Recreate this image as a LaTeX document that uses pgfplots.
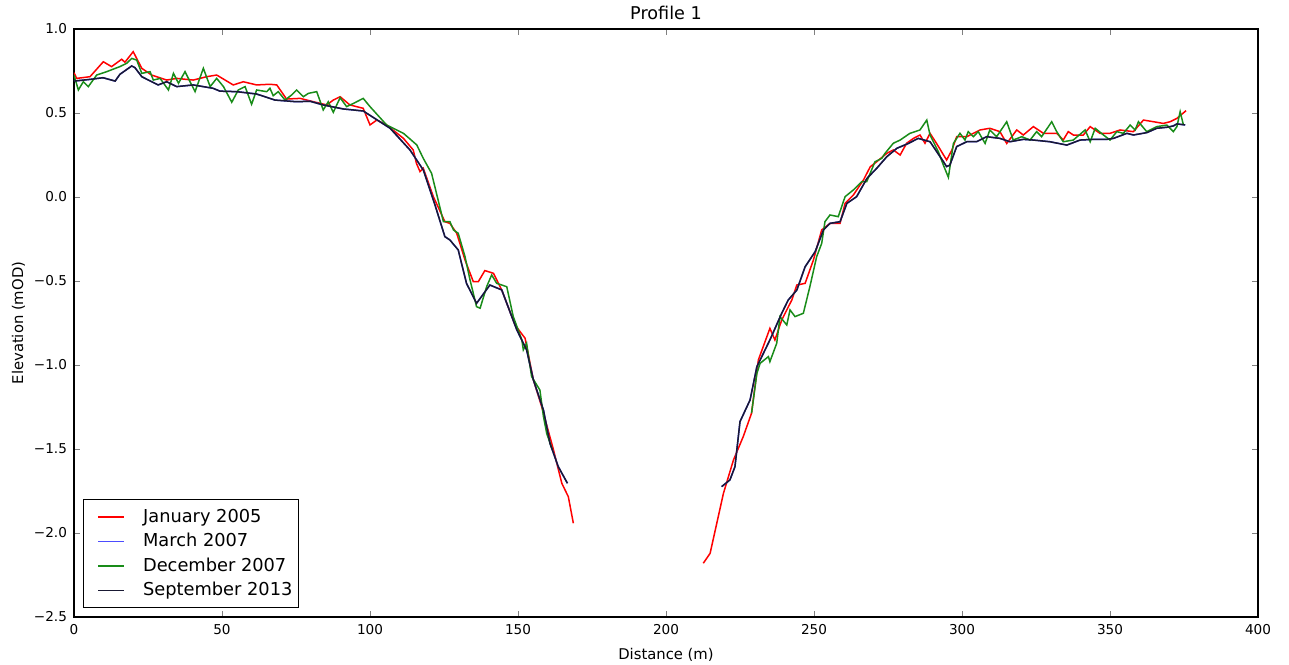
\documentclass[border=0pt]{standalone}
\usepackage{fontspec}
\setmainfont{DejaVu Sans}
\usepackage{pgfplots}
\pgfplotsset{compat=1.18}

\begin{document}
\begin{tikzpicture}
\begin{axis}[
    scale only axis, width=592pt, height=294pt,
    xmin=0, xmax=400, ymin=-2.5, ymax=1.0,
    xtick={0,50,...,400},
    ytick={-2.5,-2,-1.5,-1,-0.5,0,0.5,1},
    yticklabels={−2.5,−2.0,−1.5,−1.0,−0.5,0.0,0.5,1.0},
    tick align=inside, tick pos=both, major tick length=3pt,
    ticklabel style={font=\fontsize{6.8}{8}\selectfont},
    /pgf/number format/assume math mode=true,
    axis line style={line width=0.6pt},
    xlabel={Distance (m)}, ylabel={Elevation (mOD)},
    label style={font=\fontsize{7.4}{9}\selectfont},
    ylabel shift=-2.5pt,
    title={Profile 1},
    every axis title/.style={at={(0.5,1)}, anchor=base, yshift=4.5pt,
        font=\fontsize{8.8}{10}\selectfont},
    unbounded coords=jump,
    every axis plot/.append style={line width=0.75pt},
    legend style={at={(0.0076,0.015)}, anchor=south west, draw=black, line width=0.6pt,
        font=\fontsize{8.9}{10}\selectfont, row sep=0pt, inner xsep=1pt, inner ysep=2.5pt,
        /tikz/every odd column/.append style={column sep=7pt}},
    legend cell align=left,
    legend image code/.code={\path (0pt,0pt); \draw[#1] (6pt,0pt) -- (19pt,0pt);},
]
% January 2005
\addplot[red] coordinates {
(0,0.74) (0.9,0.706) (5.4,0.716) (9.9,0.805) (12.7,0.776) (16.1,0.820) (17.2,0.802)
(20.0,0.865) (22.9,0.766) (26.2,0.726) (27.9,0.716) (31.3,0.696) (34.7,0.706)
(40.3,0.696) (44.8,0.716) (48.2,0.726) (53.8,0.667) (57.2,0.686) (61.7,0.667)
(66.2,0.671) (68.5,0.667) (71.8,0.583) (76.4,0.587) (80.9,0.567) (85.4,0.548)
(87.6,0.577) (89.9,0.597) (93.2,0.548) (97.7,0.528) (100.0,0.429) (102.3,0.458)
(105.6,0.429) (111.3,0.349) (114.6,0.28) (115.7,0.20) (116.9,0.151) (118.0,0.171)
(121.4,0.002) (125.3,-0.147) (127.0,-0.157) (129.3,-0.216) (132.1,-0.375)
(134.9,-0.504) (136.6,-0.504) (138.8,-0.438) (141.7,-0.454) (144.5,-0.553)
(149.0,-0.762) (152.4,-0.841) (155.2,-1.089) (158.0,-1.248) (162.0,-1.506)
(164.8,-1.704) (167.0,-1.784) (168.7,-1.942)
(190,nan)
(212.6,-2.18) (214.9,-2.121) (219.4,-1.764) (222.8,-1.565) (226.1,-1.426)
(228.9,-1.287) (231.2,-0.97) (235.1,-0.782) (236.8,-0.851) (239.1,-0.732)
(242.5,-0.613) (244.2,-0.524) (247.0,-0.514) (249.8,-0.375) (252.6,-0.196)
(255.4,-0.157) (258.8,-0.157) (260.5,-0.038) (263.3,0.012) (266.7,0.101)
(269.0,0.180) (271.2,0.210) (274.6,0.260) (276.8,0.280) (279.1,0.250)
(281.3,0.320) (283.6,0.349) (285.8,0.369) (287.5,0.320) (289.2,0.379)
(291.4,0.319) (294.8,0.220) (296.6,0.280) (298.2,0.359) (301.6,0.359)
(306.1,0.399) (309.4,0.409) (312.8,0.389) (315.1,0.319) (318.5,0.399)
(320.7,0.369) (324.1,0.419) (327.5,0.379) (332.0,0.379) (334.2,0.339)
(335.9,0.389) (337.6,0.369) (341.0,0.369) (343.3,0.419) (346.6,0.379)
(350.0,0.379) (353.4,0.399) (357.9,0.389) (361.3,0.458) (364.7,0.448)
(368.0,0.438) (370.3,0.448) (372.6,0.468) (375.7,0.514)
};
\addlegendentry{January 2005}
% March 2007 (lies under September 2013)
\addplot[color={rgb,1:red,0.3;green,0.3;blue,1}] coordinates {
(0,0.69) (5.4,0.70) (9.8,0.71) (13.9,0.69) (15.5,0.73) (19.5,0.78) (20.6,0.77)
(22.9,0.716) (28.4,0.667) (31.3,0.686) (34.7,0.657) (40.3,0.667) (47.0,0.647)
(49.3,0.63) (55.0,0.627) (61.7,0.613) (67.9,0.577) (75.2,0.567) (79.7,0.57)
(84.2,0.548) (91.0,0.524) (97.7,0.512) (106.8,0.409) (113.5,0.28) (118.0,0.161)
(122.0,-0.05) (125.3,-0.236) (127.0,-0.256) (129.8,-0.315) (132.6,-0.514)
(136.0,-0.633) (140.5,-0.524) (144.5,-0.553) (149.6,-0.791) (152.9,-0.91)
(155.2,-1.089) (158.6,-1.268) (160.8,-1.466) (163.6,-1.605) (166.7,-1.704)
(190,nan)
(218.8,-1.724) (221.6,-1.684) (223.3,-1.605) (225.0,-1.337) (228.4,-1.208)
(230.7,-1.010) (235.1,-0.851) (239.1,-0.692) (241.3,-0.613) (244.2,-0.554)
(247.0,-0.415) (250.4,-0.325) (253.2,-0.196) (255.4,-0.157) (258.8,-0.147)
(261.1,-0.038) (264.4,0.002) (267.9,0.111) (271.2,0.171) (274.6,0.240)
(278.0,0.290) (281.9,0.319) (285.2,0.349) (289.2,0.329) (292.6,0.240)
(294.8,0.181) (295.9,0.190) (298.2,0.300) (301.6,0.329) (304.9,0.329)
(308.3,0.359) (312.8,0.349) (316.2,0.329) (320.7,0.343) (324.1,0.339)
(329.7,0.329) (335.4,0.309) (339.9,0.339) (344.4,0.343) (348.9,0.343)
(351.2,0.349) (355.7,0.379) (357.9,0.369) (362.4,0.383) (365.8,0.409)
(369.2,0.415) (371.4,0.423) (372.6,0.435) (375.4,0.429)
};
\addlegendentry{March 2007}
% December 2007
\addplot[color={rgb,1:red,0.1;green,0.55;blue,0.1}] coordinates {
(0,0.726) (1.47,0.637) (3.15,0.686) (4.84,0.657) (7.66,0.726) (11.04,0.746)
(15.5,0.776) (17.8,0.796) (19.5,0.825) (21.2,0.815) (22.9,0.736) (25.7,0.746)
(26.8,0.696) (29.1,0.706) (31.9,0.637) (33.6,0.736) (35.3,0.677) (37.5,0.746)
(40.9,0.627) (43.7,0.766) (46.0,0.657) (48.2,0.706) (50.5,0.657) (53.3,0.564)
(55.5,0.637) (57.8,0.657) (60.0,0.552) (61.7,0.637) (65.1,0.627) (66.2,0.647)
(67.3,0.603) (69.0,0.627) (71.3,0.577) (73.5,0.607) (75.2,0.637) (77.5,0.597)
(79.2,0.617) (82.0,0.627) (84.2,0.518) (85.9,0.567) (87.6,0.504) (89.9,0.591)
(92.1,0.538) (94.4,0.557) (97.7,0.587) (100.0,0.538) (105.6,0.429) (111.3,0.379)
(115.8,0.310) (118.0,0.23) (120.8,0.141) (121.9,0.062) (124.8,-0.147)
(127.0,-0.147) (128.2,-0.196) (129.8,-0.216) (132.1,-0.355) (133.8,-0.494)
(136.0,-0.653) (137.2,-0.662) (139.4,-0.534) (141.1,-0.464) (142.8,-0.514)
(144.5,-0.524) (146.2,-0.534) (148.4,-0.712) (151.3,-0.851) (151.8,-0.91)
(152.9,-0.871) (154.6,-1.069) (157.4,-1.149) (158.6,-1.307) (159.7,-1.407)
(161.5,-1.50)
(190,nan)
(228.9,-1.287) (230.7,-1.05) (231.8,-0.99) (234.6,-0.95) (235.1,-0.98)
(237.4,-0.871) (238.5,-0.712) (240.8,-0.762) (241.9,-0.672) (243.6,-0.712)
(246.4,-0.692) (248.6,-0.534) (250.9,-0.355) (252.6,-0.276) (253.7,-0.147)
(255.4,-0.107) (258.2,-0.117) (260.5,0.002) (263.3,0.042) (266.1,0.091)
(267.8,0.091) (270.6,0.210) (272.9,0.230) (274.0,0.260) (276.8,0.320)
(279.1,0.339) (282.4,0.379) (285.8,0.399) (288.1,0.458) (289.2,0.369)
(292.0,0.270) (293.7,0.190) (295.4,0.117) (297.1,0.319) (299.3,0.379)
(301.0,0.339) (302.1,0.389) (303.8,0.359) (305.5,0.389) (307.8,0.319)
(309.4,0.399) (311.7,0.359) (315.1,0.448) (317.3,0.339) (320.2,0.359)
(323.0,0.339) (325.2,0.389) (326.9,0.359) (330.3,0.448) (332.0,0.389)
(334.2,0.329) (337.6,0.339) (341.6,0.399) (343.3,0.329) (345.0,0.409)
(347.8,0.369) (350.0,0.339) (352.3,0.389) (354.5,0.379) (356.8,0.428)
(358.5,0.399) (359.6,0.448) (362.4,0.389) (365.8,0.419) (369.2,0.428)
(371.4,0.389) (372.6,0.419) (373.7,0.508) (374.8,0.429)
};
\addlegendentry{December 2007}
% September 2013
\addplot[color={rgb,1:red,0.1;green,0.1;blue,0.2}] coordinates {
(0,0.69) (5.4,0.70) (9.8,0.71) (13.9,0.69) (15.5,0.73) (19.5,0.78) (20.6,0.77)
(22.9,0.716) (28.4,0.667) (31.3,0.686) (34.7,0.657) (40.3,0.667) (47.0,0.647)
(49.3,0.63) (55.0,0.627) (61.7,0.613) (67.9,0.577) (75.2,0.567) (79.7,0.57)
(84.2,0.548) (91.0,0.524) (97.7,0.512) (106.8,0.409) (113.5,0.28) (118.0,0.161)
(122.0,-0.05) (125.3,-0.236) (127.0,-0.256) (129.8,-0.315) (132.6,-0.514)
(136.0,-0.633) (140.5,-0.524) (144.5,-0.553) (149.6,-0.791) (152.9,-0.91)
(155.2,-1.089) (158.6,-1.268) (160.8,-1.466) (163.6,-1.605) (166.7,-1.704)
(190,nan)
(218.8,-1.724) (221.6,-1.684) (223.3,-1.605) (225.0,-1.337) (228.4,-1.208)
(230.7,-1.010) (235.1,-0.851) (239.1,-0.692) (241.3,-0.613) (244.2,-0.554)
(247.0,-0.415) (250.4,-0.325) (253.2,-0.196) (255.4,-0.157) (258.8,-0.147)
(261.1,-0.038) (264.4,0.002) (267.9,0.111) (271.2,0.171) (274.6,0.240)
(278.0,0.290) (281.9,0.319) (285.2,0.349) (289.2,0.329) (292.6,0.240)
(294.8,0.181) (295.9,0.190) (298.2,0.300) (301.6,0.329) (304.9,0.329)
(308.3,0.359) (312.8,0.349) (316.2,0.329) (320.7,0.343) (324.1,0.339)
(329.7,0.329) (335.4,0.309) (339.9,0.339) (344.4,0.343) (348.9,0.343)
(351.2,0.349) (355.7,0.379) (357.9,0.369) (362.4,0.383) (365.8,0.409)
(369.2,0.415) (371.4,0.423) (372.6,0.435) (375.4,0.429)
};
\addlegendentry{September 2013}
\end{axis}
\pgfresetboundingbox
\path ([xshift=-37pt,yshift=-23.5pt]current axis.south west)
    rectangle ([xshift=15.5pt,yshift=14.5pt]current axis.north east);
\end{tikzpicture}
\end{document}
